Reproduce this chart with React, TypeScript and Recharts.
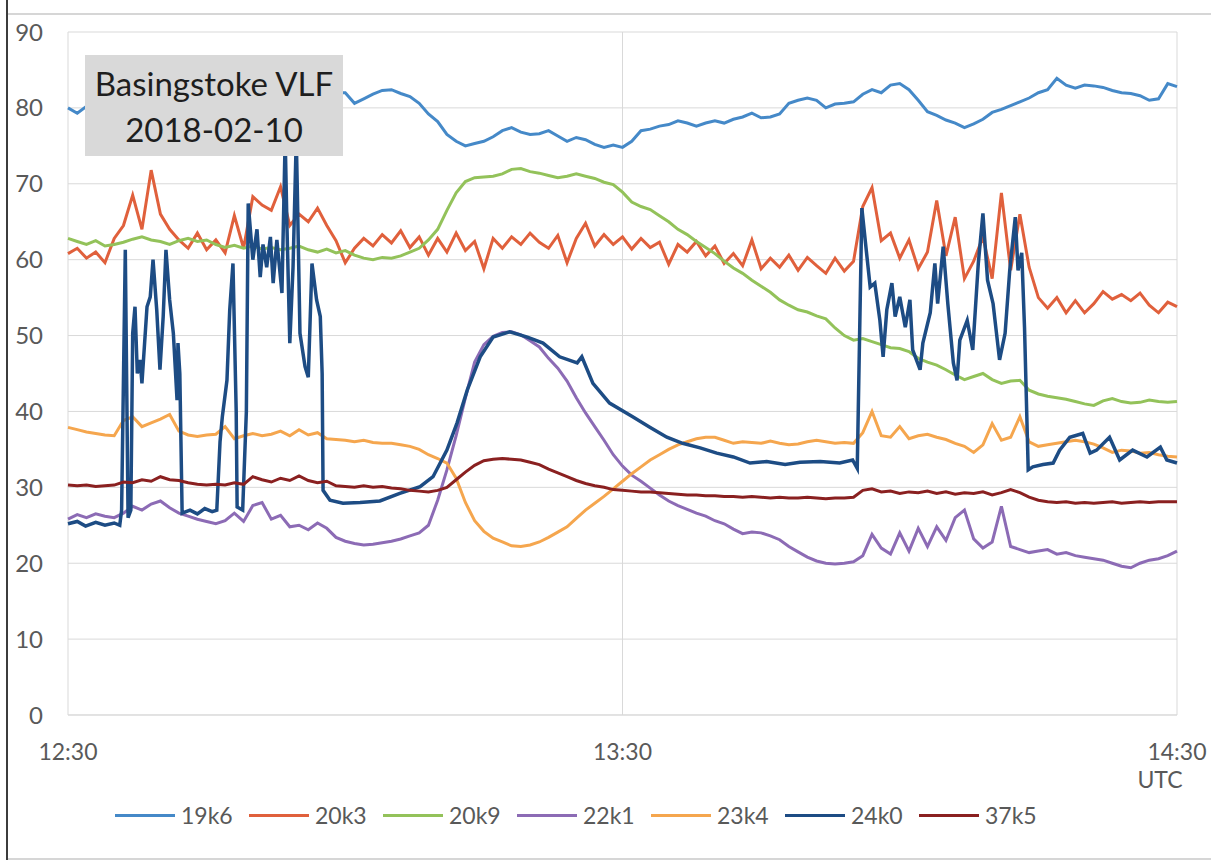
import { LineChart, Line, XAxis, YAxis, CartesianGrid, Legend } from 'recharts';

// one sample per minute from 12:30 (t = 0) to 14:30 (t = 120)
const s19k6 = [
  80.0, 79.3, 80.2, 80.6, 81.0, 80.8, 81.3, 81.6, 81.2, 81.8,
  82.0, 81.6, 81.9, 82.2, 81.8, 82.0, 82.4, 82.1, 81.7, 82.0,
  82.3, 81.9, 82.2, 82.5, 82.0, 81.8, 82.2, 82.6, 82.3, 82.0,
  82.0, 80.6, 81.2, 81.8, 82.3, 82.4, 81.9, 81.5, 80.6, 79.2,
  78.2, 76.5, 75.6, 75.0, 75.3, 75.6, 76.2, 77.0, 77.4, 76.8,
  76.5, 76.6, 77.0, 76.3, 75.6, 76.1, 75.8, 75.2, 74.8, 75.1,
  74.8, 75.6, 77.0, 77.2, 77.6, 77.8, 78.3, 78.0, 77.6, 78.0,
  78.3, 78.0, 78.5, 78.8, 79.3, 78.7, 78.8, 79.2, 80.6, 81.0,
  81.3, 81.0, 80.0, 80.5, 80.6, 80.8, 81.8, 82.4, 82.0, 83.0,
  83.2, 82.4, 81.0, 79.5, 79.0, 78.4, 78.0, 77.4, 77.9, 78.5,
  79.4, 79.8, 80.3, 80.8, 81.3, 82.0, 82.4, 83.9, 83.0, 82.6,
  83.0, 82.9, 82.7, 82.3, 82.0, 81.9, 81.6, 81.0, 81.2, 83.2,
  82.8,
];

const s20k3 = [
  60.8, 61.5, 60.2, 61.0, 59.6, 62.8, 64.5, 68.5, 64.0, 71.8,
  66.0, 64.0, 62.6, 61.5, 63.5, 61.3, 62.6, 60.9, 65.8, 61.5,
  68.3, 67.2, 66.5, 69.6, 64.5, 66.0, 65.0, 66.8, 64.5, 62.5,
  59.6, 61.5, 62.8, 61.8, 63.3, 62.2, 63.8, 61.6, 63.0, 60.6,
  62.8, 61.0, 63.5, 61.2, 62.4, 58.8, 62.8, 61.5, 63.0, 62.0,
  63.5, 62.3, 61.5, 63.2, 59.6, 62.8, 64.8, 61.8, 63.3, 62.0,
  63.0, 61.4, 62.8, 61.6, 62.3, 59.4, 62.0, 61.0, 62.4, 60.5,
  61.8, 59.5, 60.8, 59.2, 62.6, 58.8, 60.2, 59.0, 60.6, 58.6,
  60.3, 59.2, 58.2, 60.2, 58.5, 59.8, 67.0, 69.5, 62.5, 63.5,
  60.2, 62.6, 58.8, 61.0, 67.8, 60.5, 65.6, 57.5, 59.8, 63.0,
  57.5, 68.8, 58.6, 66.0, 59.0, 55.0, 53.6, 55.0, 53.0, 54.6,
  53.0, 54.2, 55.8, 54.8, 55.4, 54.6, 55.6, 54.0, 53.0, 54.4,
  53.8,
];

const s20k9 = [
  62.8, 62.4, 62.0, 62.5, 61.8, 62.0, 62.3, 62.7, 63.0, 62.6,
  62.4, 62.0, 62.5, 62.8, 62.4, 62.6, 62.0, 61.6, 61.9, 61.5,
  61.8, 61.4, 61.6, 61.3, 61.5, 61.8, 61.3, 61.0, 61.4, 60.9,
  61.2, 60.6, 60.2, 60.0, 60.3, 60.2, 60.5, 61.0, 61.5, 62.6,
  64.0, 66.5, 68.8, 70.3, 70.8, 70.9, 71.0, 71.3, 71.9, 72.0,
  71.6, 71.4, 71.1, 70.8, 71.0, 71.3, 71.0, 70.7, 70.2, 69.9,
  68.9, 67.6, 67.0, 66.6, 65.8, 65.0, 64.0, 63.3, 62.4, 61.6,
  60.8, 59.8, 58.9, 58.2, 57.3, 56.5, 55.7, 54.7, 54.0, 53.4,
  53.1, 52.6, 52.2, 51.0, 50.0, 49.4, 49.6, 49.2, 48.8, 48.4,
  48.3, 47.9, 47.0, 46.5, 46.1, 45.5, 44.8, 44.2, 44.6, 45.0,
  44.2, 43.7, 44.0, 44.1, 42.8, 42.3, 42.0, 41.8, 41.6, 41.3,
  41.0, 40.8, 41.4, 41.7, 41.3, 41.1, 41.2, 41.5, 41.3, 41.2,
  41.3,
];

const s22k1 = [
  25.8, 26.4, 26.0, 26.5, 26.2, 26.0, 26.6, 27.5, 27.0, 27.8,
  28.2, 27.3, 26.6, 26.2, 25.8, 25.5, 25.2, 25.6, 26.6, 25.5,
  27.6, 28.0, 25.8, 26.3, 24.8, 25.0, 24.4, 25.3, 24.6, 23.4,
  22.9, 22.6, 22.4, 22.5, 22.7, 22.9, 23.2, 23.6, 24.0, 25.0,
  28.3, 32.3, 36.8, 41.8, 46.5, 48.8, 49.9, 50.4, 50.5, 50.1,
  49.3, 48.5, 47.0, 45.7, 44.0, 41.8, 39.8, 38.0, 36.2, 34.3,
  32.8, 31.6, 30.8, 29.9, 29.0, 28.2, 27.6, 27.1, 26.6, 26.2,
  25.6, 25.2, 24.5, 23.9, 24.1, 24.0, 23.6, 23.1, 22.2, 21.5,
  20.8, 20.3, 20.0, 19.9, 20.0, 20.2, 21.0, 23.8, 22.0, 21.2,
  24.0, 21.6, 24.6, 22.2, 24.8, 23.0, 26.0, 27.0, 23.2, 22.0,
  22.8, 27.5, 22.2, 21.8, 21.4, 21.6, 21.8, 21.2, 21.4, 21.0,
  20.8, 20.6, 20.4, 20.0, 19.6, 19.4, 20.0, 20.4, 20.6, 21.0,
  21.6,
];

const s23k4 = [
  37.9, 37.6, 37.3, 37.1, 36.9, 36.8, 38.8, 39.3, 38.0, 38.5,
  39.0, 39.6, 37.4, 36.9, 36.7, 36.9, 37.0, 38.0, 36.4, 36.8,
  37.1, 36.8, 37.0, 37.4, 36.8, 37.6, 36.9, 37.2, 36.4, 36.3,
  36.2, 36.0, 36.2, 35.9, 35.8, 35.8, 35.6, 35.4, 35.0, 34.3,
  33.8, 33.2, 31.2, 28.0, 25.6, 24.2, 23.3, 22.8, 22.3, 22.2,
  22.4, 22.8, 23.4, 24.1, 24.8, 25.9, 27.0, 27.9, 28.8, 29.8,
  30.8, 31.8, 32.7, 33.6, 34.3, 35.0, 35.6, 36.0, 36.4, 36.6,
  36.6, 36.2, 35.8, 36.0, 35.9, 35.8, 36.1, 35.8, 35.6, 35.7,
  36.0, 36.2, 36.0, 35.8, 35.9, 35.8, 37.2, 40.0, 36.8, 36.6,
  38.0, 36.4, 36.8, 37.0, 36.6, 36.3, 35.8, 35.4, 34.6, 35.6,
  38.4, 36.2, 36.6, 39.3, 36.0, 35.4, 35.6, 35.8, 36.0, 36.2,
  36.0, 35.7, 35.2, 34.6, 34.9, 34.8, 34.5, 34.6, 34.3, 34.1,
  34.0,
];

const s37k5 = [
  30.3, 30.2, 30.3, 30.1, 30.2, 30.3, 30.7, 30.6, 31.0, 30.8,
  31.4, 31.0, 30.9, 30.6, 30.4, 30.3, 30.4, 30.3, 30.6, 30.4,
  31.4, 31.0, 30.7, 31.2, 30.9, 31.5, 30.9, 30.6, 30.8, 30.2,
  30.1, 30.0, 30.2, 30.0, 30.1, 29.9, 29.8, 29.6, 29.5, 29.4,
  29.6, 30.0, 31.0, 32.0, 32.9, 33.5, 33.7, 33.8, 33.7, 33.6,
  33.3, 33.0, 32.4, 31.9, 31.4, 30.9, 30.5, 30.2, 30.0, 29.7,
  29.6, 29.5, 29.4, 29.4, 29.3, 29.2, 29.1, 29.0, 29.0, 28.9,
  28.9, 28.8, 28.8, 28.7, 28.8, 28.7, 28.6, 28.7, 28.6, 28.6,
  28.7, 28.6, 28.5, 28.6, 28.6, 28.7, 29.6, 29.8, 29.4, 29.5,
  29.2, 29.4, 29.3, 29.5, 29.2, 29.4, 29.1, 29.3, 29.2, 29.4,
  29.0, 29.3, 29.7, 29.3, 28.7, 28.3, 28.1, 28.0, 28.1, 27.9,
  28.0, 27.9, 28.0, 28.1, 27.9, 28.0, 28.1, 28.0, 28.1, 28.1,
  28.1,
];

// 24k0 switches on and off very quickly, so it has its own time stamps (minutes after 12:30)
const t24k0 = [
  0, 1.0, 1.9, 3.0, 4.0, 5.0, 5.6, 5.8, 6.2, 6.5,
  6.8, 7.0, 7.25, 7.5, 7.8, 8.0, 8.55, 8.9, 9.2, 9.6,
  9.95, 10.3, 10.6, 11.0, 11.4, 11.8, 11.9, 12.1, 12.35, 13.2,
  14.0, 14.8, 15.6, 16.1, 16.45, 16.7, 17.2, 17.5, 17.85, 18.2,
  18.3, 18.9, 19.3, 19.5, 20.0, 20.45, 20.8, 21.1, 21.5, 21.9,
  22.2, 22.6, 23.15, 23.5, 23.7, 24.0, 24.35, 24.7, 24.8, 25.1,
  25.65, 26.0, 26.4, 26.9, 27.3, 27.5, 27.6, 28.35, 29.75, 31.6,
  33.75, 35.9, 38.1, 39.5, 41.0, 42.1, 43.2, 44.6, 46.0, 47.8,
  49.7, 51.4, 53.2, 55.1, 55.6, 56.8, 58.6, 61.1, 63.0, 64.8,
  66.5, 68.4, 70.2, 72.0, 73.8, 75.6, 77.6, 79.2, 81.4, 83.5,
  84.9, 85.4, 85.9, 86.45, 86.8, 87.3, 87.85, 88.2, 88.6, 89.15,
  89.5, 90.0, 90.6, 91.1, 91.4, 92.2, 92.5, 93.3, 93.8, 94.1,
  94.7, 95.2, 95.8, 96.2, 96.5, 97.3, 97.9, 98.5, 99.0, 99.5,
  100.1, 100.8, 101.4, 101.9, 102.5, 102.8, 103.2, 103.5, 103.9, 104.4,
  105.5, 106.6, 107.3, 108.4, 109.8, 110.6, 111.3, 112.7, 113.8, 115.2,
  116.75, 118.2, 118.9, 120,
];
const v24k0 = [
  25.2, 25.5, 24.9, 25.4, 25.0, 25.3, 25.0, 27.0, 61.3, 26.0,
  27.0, 50.3, 53.8, 45.0, 46.8, 43.7, 53.8, 55.1, 60.0, 53.4,
  45.5, 52.5, 61.3, 54.7, 50.3, 41.5, 49.0, 45.0, 26.6, 27.0,
  26.5, 27.2, 26.8, 27.0, 36.0, 39.3, 44.1, 53.4, 59.5, 40.0,
  27.4, 27.0, 40.0, 67.4, 60.0, 64.0, 57.7, 62.0, 59.0, 63.0,
  56.9, 62.6, 55.6, 76.0, 64.0, 49.0, 59.0, 76.0, 70.0, 50.3,
  45.9, 44.5, 59.5, 54.7, 52.5, 45.0, 29.6, 28.3, 27.9, 28.0,
  28.2, 29.2, 30.1, 31.4, 34.9, 38.5, 42.8, 47.2, 49.8, 50.5,
  49.8, 49.0, 47.2, 46.4, 47.2, 43.7, 41.1, 39.3, 37.9, 36.6,
  35.8, 35.2, 34.5, 34.0, 33.2, 33.4, 33.0, 33.3, 33.4, 33.2,
  33.6, 32.5, 66.8, 60.4, 56.4, 56.9, 52.0, 47.2, 53.4, 56.9,
  52.5, 55.1, 51.1, 54.7, 48.1, 45.5, 49.0, 53.0, 59.5, 54.2,
  61.7, 54.2, 46.4, 44.1, 49.4, 52.0, 48.1, 59.5, 66.1, 57.3,
  54.2, 46.8, 50.3, 58.6, 65.6, 58.6, 60.9, 51.1, 32.3, 32.7,
  33.0, 33.2, 34.9, 36.6, 37.1, 34.5, 34.9, 36.6, 33.6, 34.9,
  34.0, 35.3, 33.6, 33.2,
];

const xTicks = [0, 60, 120];
const xTickLabels = ['12:30', '13:30', '14:30'];
const yTicks = [0, 10, 20, 30, 40, 50, 60, 70, 80, 90];

const series = [
  { key: 's19k6', name: '19k6', color: '#4589C8' },
  { key: 's20k3', name: '20k3', color: '#E0603C' },
  { key: 's20k9', name: '20k9', color: '#93C25A' },
  { key: 's22k1', name: '22k1', color: '#8C6BB5' },
  { key: 's23k4', name: '23k4', color: '#F5A64E' },
  { key: 's24k0', name: '24k0', color: '#1D4C84' },
  { key: 's37k5', name: '37k5', color: '#8A2020' },
];

const rows = s19k6.map((_, i) => ({
  t: i,
  s19k6: s19k6[i],
  s20k3: s20k3[i],
  s20k9: s20k9[i],
  s22k1: s22k1[i],
  s23k4: s23k4[i],
  s37k5: s37k5[i],
}));

const rows24k0 = t24k0.map((t, i) => ({ t, s24k0: v24k0[i] }));

const FONT = 'Lato, "Open Sans", sans-serif';
const TEXT = '#595959';
const FS = 23;

const TimeTick = (props: any) => {
  const { x, y, payload } = props;
  const label = xTickLabels[xTicks.indexOf(payload.value)];
  return (
    <g>
      <text x={x} y={y + 45} textAnchor="middle" fill={TEXT} fontSize={FS} fontFamily={FONT}>
        {label}
      </text>
      {payload.value === 120 && (
        <text x={x - 17} y={y + 73} textAnchor="middle" fill={TEXT} fontSize={FS} fontFamily={FONT}>
          UTC
        </text>
      )}
    </g>
  );
};

const LegendRow = () => (
  <div style={{ display: 'flex', paddingLeft: 115, fontFamily: FONT, fontSize: FS, color: TEXT }}>
    {series.map((s) => (
      <div key={s.key} style={{ width: 134, display: 'flex', alignItems: 'center' }}>
        <span style={{ width: 60, height: 3, background: s.color, marginRight: 6, display: 'inline-block' }} />
        <span>{s.name}</span>
      </div>
    ))}
  </div>
);

const colorOf = (k: string) => series.find((s) => s.key === k)!.color;

export default function App() {
  return (
    <div style={{ position: 'absolute', left: 0, top: 0, width: 1211, height: 863, background: '#fff' }}>
      <div style={{ position: 'absolute', left: 6, top: 0, width: 2, height: 860, background: '#3c3c3c' }} />
      <div style={{ position: 'absolute', left: 8, top: 13, width: 1203, height: 2, background: '#d6d6d6' }} />
      <div style={{ position: 'absolute', left: 8, top: 858, width: 1203, height: 2, background: '#d6d6d6' }} />

      <div style={{ position: 'absolute', left: 0, top: 0 }}>
        <LineChart
          width={1211}
          height={863}
          data={rows}
          margin={{ top: 32, right: 34, left: 18, bottom: 118 }}
          style={{ fontFamily: FONT }}
        >
          <CartesianGrid stroke="#d9d9d9" strokeWidth={1} />
          <XAxis
            type="number"
            dataKey="t"
            domain={[0, 120]}
            ticks={xTicks}
            interval={0}
            tick={<TimeTick />}
            tickLine={false}
            tickSize={0}
            tickMargin={0}
            axisLine={{ stroke: '#d9d9d9' }}
            height={30}
          />
          <YAxis
            type="number"
            domain={[0, 90]}
            ticks={yTicks}
            interval={0}
            width={50}
            tickLine={false}
            tickSize={0}
            tickMargin={25}
            axisLine={false}
            tick={{ fill: TEXT, fontSize: FS + 1, fontFamily: FONT }}
          />
          <Legend
            verticalAlign="middle"
            align="center"
            content={() => <LegendRow />}
            wrapperStyle={{ position: 'absolute', top: 801, left: 0, width: 1211 }}
          />
          {['s19k6', 's20k3', 's20k9', 's22k1', 's23k4'].map((k) => (
            <Line
              key={k}
              type="linear"
              dataKey={k}
              stroke={colorOf(k)}
              strokeWidth={3}
              dot={false}
              isAnimationActive={false}
            />
          ))}
          <Line
            data={rows24k0}
            type="linear"
            dataKey="s24k0"
            stroke={colorOf('s24k0')}
            strokeWidth={3.5}
            dot={false}
            isAnimationActive={false}
          />
          <Line
            type="linear"
            dataKey="s37k5"
            stroke={colorOf('s37k5')}
            strokeWidth={3}
            dot={false}
            isAnimationActive={false}
          />
        </LineChart>
      </div>

      <div
        style={{
          position: 'absolute',
          left: 85,
          top: 55,
          width: 258,
          height: 101,
          boxSizing: 'border-box',
          paddingTop: 5,
          background: '#d9d9d9',
          fontFamily: FONT,
          fontSize: 33,
          lineHeight: '46px',
          color: '#1e1e1e',
          textAlign: 'center',
        }}
      >
        <div>Basingstoke VLF</div>
        <div>2018-02-10</div>
      </div>
    </div>
  );
}
